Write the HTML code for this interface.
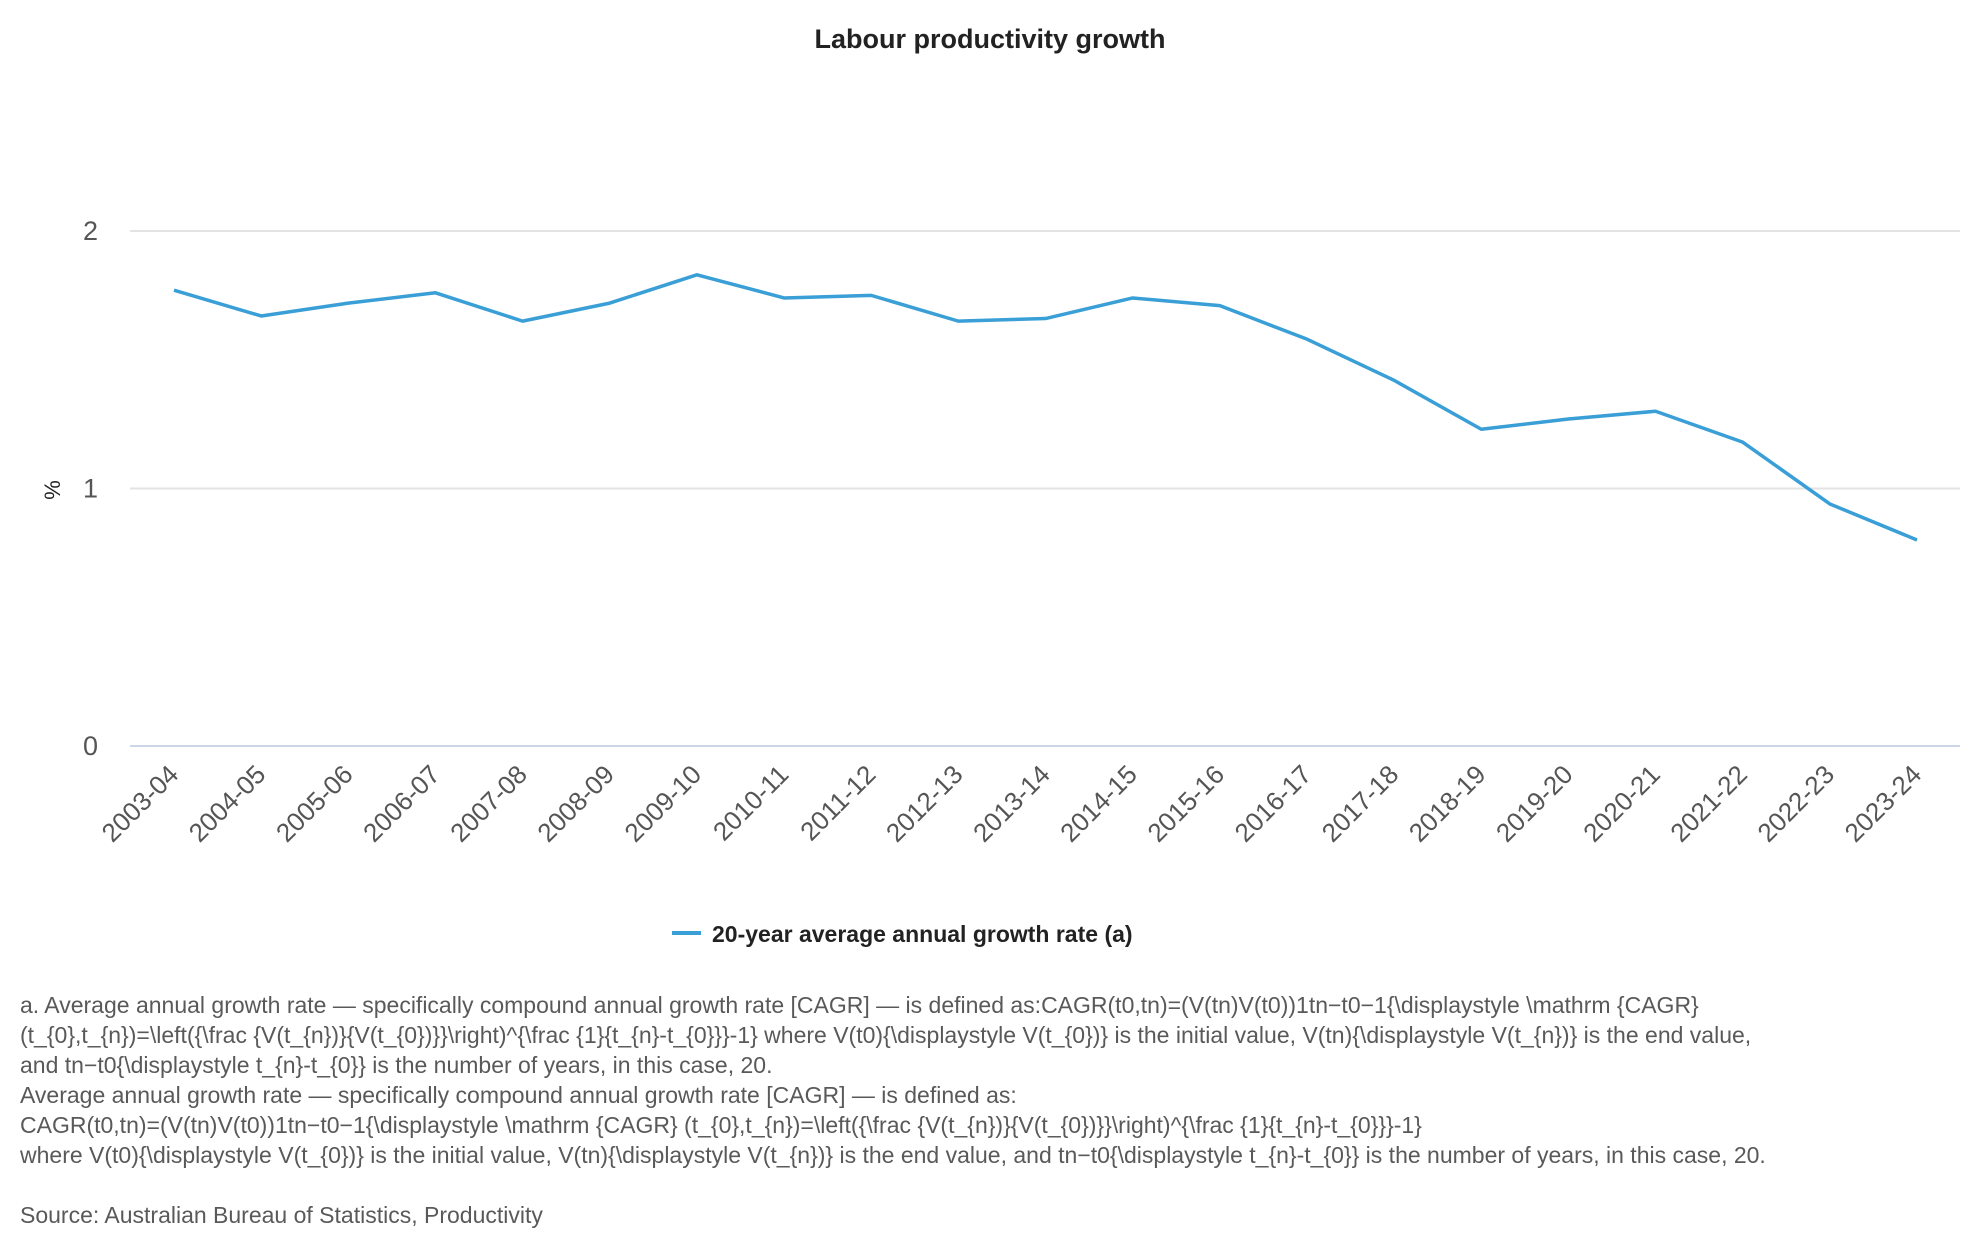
<!DOCTYPE html>
<html><head><meta charset="utf-8"><style>
body{margin:0;width:1980px;height:1260px;background:#fff;font-family:"Liberation Sans",sans-serif;overflow:hidden;position:relative}
#notes{position:absolute;left:20px;top:990px;font-size:23px;line-height:30px;color:#595959;width:1950px;white-space:nowrap}
#notes p{margin:0}
</style></head><body>
<svg id="chart" width="1980" height="970" style="position:absolute;left:0;top:0" font-family="Liberation Sans, sans-serif">
<text x="990" y="48" text-anchor="middle" font-size="27" font-weight="bold" fill="#222">Labour productivity growth</text>
<text transform="translate(60,490) rotate(-90)" text-anchor="middle" font-size="22" fill="#222">%</text>
<g id="grid"></g><g id="xlabels"></g>
<path id="series" fill="none" stroke="#3a9fd6" stroke-width="3.5" stroke-linejoin="round"/>
<line x1="672" y1="933" x2="701" y2="933" stroke="#3a9fd6" stroke-width="4"/>
<text x="712" y="942" font-size="23" font-weight="bold" fill="#222">20-year average annual growth rate (a)</text>
</svg>
<div id="notes">
<p>a. Average annual growth rate — specifically compound annual growth rate [CAGR] — is defined as:CAGR(t0,tn)=(V(tn)V(t0))1tn−t0−1{\displaystyle \mathrm {CAGR}<br>(t_{0},t_{n})=\left({\frac {V(t_{n})}{V(t_{0})}}\right)^{\frac {1}{t_{n}-t_{0}}}-1} where V(t0){\displaystyle V(t_{0})} is the initial value, V(tn){\displaystyle V(t_{n})} is the end value,<br>and tn−t0{\displaystyle t_{n}-t_{0}} is the number of years, in this case, 20.</p>
<p>Average annual growth rate — specifically compound annual growth rate [CAGR] — is defined as:</p>
<p>CAGR(t0,tn)=(V(tn)V(t0))1tn−t0−1{\displaystyle \mathrm {CAGR} (t_{0},t_{n})=\left({\frac {V(t_{n})}{V(t_{0})}}\right)^{\frac {1}{t_{n}-t_{0}}}-1}</p>
<p>where V(t0){\displaystyle V(t_{0})} is the initial value, V(tn){\displaystyle V(t_{n})} is the end value, and tn−t0{\displaystyle t_{n}-t_{0}} is the number of years, in this case, 20.</p>
<p style="margin-top:30px">Source: Australian Bureau of Statistics, Productivity</p>
</div>
<script>
const categories=["2003-04","2004-05","2005-06","2006-07","2007-08","2008-09","2009-10","2010-11","2011-12","2012-13","2013-14","2014-15","2015-16","2016-17","2017-18","2018-19","2019-20","2020-21","2021-22","2022-23","2023-24"];
const values=[1.77,1.67,1.72,1.76,1.65,1.72,1.83,1.74,1.75,1.65,1.66,1.74,1.71,1.58,1.42,1.23,1.27,1.30,1.18,0.94,0.80];
const yTicks=[0,1,2];
const NS="http://www.w3.org/2000/svg";
const x=i=>174+i*(1917-174)/(categories.length-1);
const y=v=>746-v*(746-231)/2;
const grid=document.getElementById('grid');
yTicks.forEach(t=>{
 const l=document.createElementNS(NS,'line');
 
 
 l.setAttribute('x1',130);l.setAttribute('x2',1960);l.setAttribute('y1',y(t));l.setAttribute('y2',y(t));
 l.setAttribute('stroke',t===0?'#ccd6e6':'#e3e3e3');l.setAttribute('stroke-width',2);
 grid.appendChild(l);
 const tx=document.createElementNS(NS,'text');
 
 
 tx.setAttribute('x',98);tx.setAttribute('y',y(t)+9);tx.setAttribute('text-anchor','end');
 tx.setAttribute('font-size',27);tx.setAttribute('fill','#555');tx.textContent=t;
 grid.appendChild(tx);
});
const xl=document.getElementById('xlabels');
categories.forEach((c,i)=>{
 const tx=document.createElementNS(NS,'text');
 
 
 tx.setAttribute('transform',`translate(${x(i)+6},${776}) rotate(-45)`);
 tx.setAttribute('text-anchor','end');tx.setAttribute('font-size',26);tx.setAttribute('fill','#555');
 tx.textContent=c;xl.appendChild(tx);
});
document.getElementById('series').setAttribute('d',values.map((v,i)=>(i?'L':'M')+x(i)+' '+y(v)).join(' '));
</script>
</body></html>
